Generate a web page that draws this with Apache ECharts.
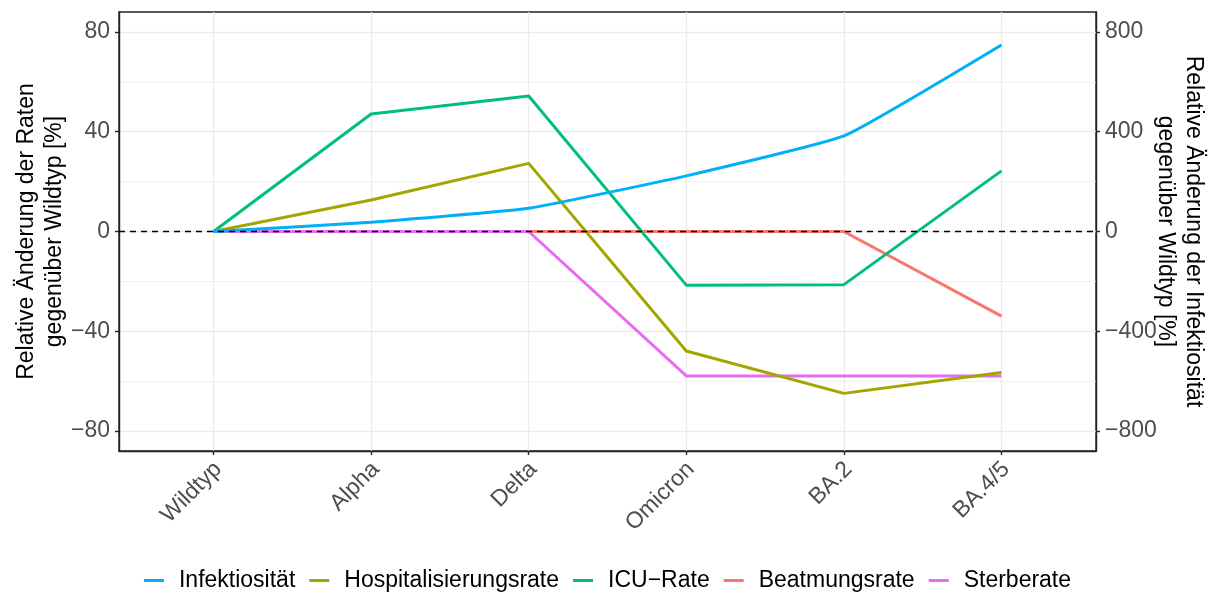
<!DOCTYPE html>
<html>
<head>
<meta charset="utf-8">
<script src="https://cdn.jsdelivr.net/npm/echarts@6/dist/echarts.min.js"></script>
<style>
  html, body { margin: 0; background: #fff; }
  #chart { width: 1215px; height: 592px; }
</style>
</head>
<body>
<div id="chart"></div>
<script>
// Varianten auf der x-Achse
var variants = ['Wildtyp', 'Alpha', 'Delta', 'Omicron', 'BA.2', 'BA.4/5'];

// Werte in % gegenüber Wildtyp (Infektiosität auf der rechten Achse)
var infektiositaet = [0, 37, 93, 223, 383, 748];
var hospitalisierung = [0, 12.6, 27.3, -47.9, -64.9, -56.5];
var icuRate = [0, 47.1, 54.3, -21.5, -21.3, 24.3];
var beatmung = [0, 0, 0, 0, 0, -33.9];
var sterbe = [0, 0, 0, -57.9, -57.9, -57.9];

var leftTicks = [-80, -40, 0, 40, 80];
var leftMinor = [-60, -20, 20, 60];
var rightTicks = [-800, -400, 0, 400, 800];
var xTicks = [0, 1, 2, 3, 4, 5];

var legendOrder = ['Infektiosität', 'Hospitalisierungsrate', 'ICU\u2212Rate', 'Beatmungsrate', 'Sterberate'];

var FONT = '"Liberation Sans", Arial, sans-serif';

function pairs(arr) {
    return arr.map(function (v, i) { return [i, v]; });
}

function minusFmt(v) {
    return v < 0 ? '\u2212' + Math.abs(v) : String(v);
}

function lineSeries(name, data, color, yIdx, extra) {
    var s = {
        name: name,
        type: 'line',
        yAxisIndex: yIdx,
        data: pairs(data),
        symbol: 'none',
        color: color,
        lineStyle: { color: color, width: 3 },
        emphasis: { disabled: true },
        animation: false
    };
    for (var k in extra) s[k] = extra[k];
    return s;
}

var chart = echarts.init(document.getElementById('chart'));

var axisLineStyle = { color: '#222', width: 1.4 };

var option = {
    backgroundColor: '#fff',
    animation: false,
    textStyle: { fontFamily: FONT },
    grid: {
        left: 119, right: 119, top: 12, bottom: 141,
        outerBoundsMode: 'none',
        containLabel: false,
        show: true, borderColor: '#222', borderWidth: 1.4,
        backgroundColor: 'transparent'
    },
    legend: {
        data: legendOrder,
        top: 564,
        left: 'center',
        icon: 'rect',
        itemWidth: 20,
        itemHeight: 3,
        itemGap: 14,
        textStyle: { fontSize: 23, color: '#000', fontFamily: FONT, padding: [0, 0, 0, 10] }
    },
    xAxis: {
        type: 'value',
        min: -0.6,
        max: 5.6,
        axisLine: { show: true, onZero: false, lineStyle: axisLineStyle },
        axisTick: { show: true, length: 4, customValues: xTicks, lineStyle: axisLineStyle },
        axisLabel: {
            customValues: xTicks,
            formatter: function (v) { return variants[Math.round(v)] || ''; },
            rotate: 45,
            align: 'right',
            verticalAlign: 'top',
            padding: [0, 5, 0, 0],
            margin: 3,
            fontSize: 23,
            color: '#4D4D4D',
            fontFamily: FONT
        },
        splitLine: { show: true, lineStyle: { color: '#EBEBEB', width: 1.3 } }
    },
    yAxis: [{
        type: 'value',
        position: 'left',
        min: -88,
        max: 88,
        name: 'Relative Änderung der Raten\ngegenüber Wildtyp [%]',
        nameLocation: 'middle',
        nameRotate: 90,
        nameGap: 50,
        nameMoveOverlap: false,
        nameTextStyle: { fontSize: 23, lineHeight: 28, color: '#000', fontFamily: FONT },
        axisLine: { show: true, onZero: false, lineStyle: axisLineStyle },
        axisTick: { show: true, length: 4, customValues: leftTicks, lineStyle: axisLineStyle },
        axisLabel: { customValues: leftTicks, formatter: minusFmt, fontSize: 23, color: '#4D4D4D', margin: 9, fontFamily: FONT },
        splitLine: { show: true, lineStyle: { color: '#EBEBEB', width: 1.3 } }
    }, {
        type: 'value',
        position: 'right',
        min: -880,
        max: 880,
        name: 'Relative Änderung der Infektiosität\ngegenüber Wildtyp [%]',
        nameLocation: 'middle',
        nameRotate: -90,
        nameGap: 55,
        nameMoveOverlap: false,
        nameTextStyle: { fontSize: 23, lineHeight: 28, color: '#000', fontFamily: FONT },
        axisLine: { show: true, onZero: false, lineStyle: axisLineStyle },
        axisTick: { show: true, length: 4, customValues: rightTicks, lineStyle: axisLineStyle },
        axisLabel: { customValues: rightTicks, formatter: minusFmt, fontSize: 23, color: '#4D4D4D', margin: 9, fontFamily: FONT },
        splitLine: { show: false }
    }, {
        // nur für die Nebengitterlinien
        type: 'value',
        position: 'left',
        min: -88,
        max: 88,
        axisLine: { show: false, onZero: false },
        axisTick: { show: false, customValues: leftMinor },
        axisLabel: { show: false },
        splitLine: { show: true, lineStyle: { color: '#EFEFEF', width: 0.9 } }
    }],
    series: [
        lineSeries('Beatmungsrate', beatmung, '#F8766D', 0),
        lineSeries('Sterberate', sterbe, '#E76BF3', 0),
        lineSeries('ICU\u2212Rate', icuRate, '#00BF7D', 0),
        lineSeries('Hospitalisierungsrate', hospitalisierung, '#A3A500', 0),
        lineSeries('Infektiosität', infektiositaet, '#00B0F6', 1, {
            smooth: 0.12,
            markLine: {
                silent: true,
                symbol: 'none',
                label: { show: false },
                animation: false,
                lineStyle: { color: '#000', type: [6, 5], width: 1.4 },
                emphasis: { disabled: true },
                data: [{ yAxis: 0 }]
            }
        })
    ]
};

chart.setOption(option);
</script>
</body>
</html>
